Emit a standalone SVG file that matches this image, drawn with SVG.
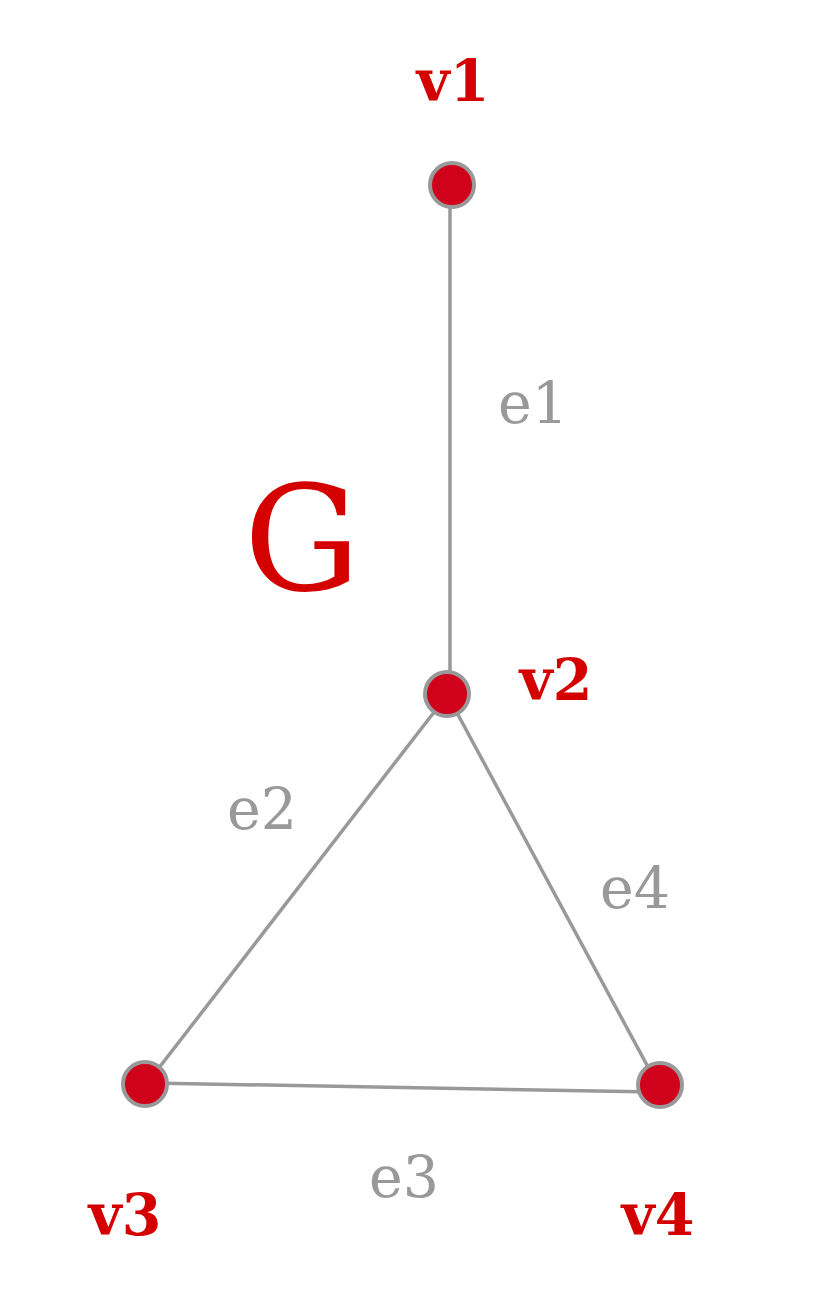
<svg xmlns="http://www.w3.org/2000/svg" width="816" height="1296" viewBox="0 0 816 1296">
<style>
.node{fill:#d0021b;stroke:#999;stroke-width:4}
.edge{stroke:#999;stroke-width:3.5;fill:none}
.vl{font-family:"DejaVu Serif",serif;font-weight:bold;font-size:57px;fill:#d40000;text-anchor:middle}
.el{font-family:"DejaVu Serif",serif;font-size:57px;fill:#999;text-anchor:middle}
.g{font-family:"DejaVu Serif",serif;font-size:146px;fill:#d40000;text-anchor:middle}
</style>
<rect width="816" height="1296" fill="#fff"/>
<g id="connectors">
<line class="edge" x1="450" y1="190" x2="450" y2="690"/>
<line class="edge" x1="445" y1="698" x2="148" y2="1082"/>
<line class="edge" x1="150" y1="1083" x2="655" y2="1092"/>
<line class="edge" x1="449" y1="698" x2="655" y2="1080"/>
<text class="el" x="533" y="423">e1</text>
<text class="el" x="262" y="829">e2</text>
<text class="el" x="404" y="1197">e3</text>
<text class="el" x="635" y="908">e4</text>
</g>
<g id="label-G"><text class="g" x="302" y="590">G</text></g>
<g id="v1"><circle class="node" cx="452" cy="185" r="22"/><text class="vl" x="453" y="101">v1</text></g>
<g id="v2"><circle class="node" cx="447" cy="694" r="22"/><text class="vl" x="556" y="700">v2</text></g>
<g id="v3"><circle class="node" cx="145" cy="1084" r="22"/><text class="vl" x="125" y="1235">v3</text></g>
<g id="v4"><circle class="node" cx="660" cy="1085" r="22"/><text class="vl" x="658" y="1235">v4</text></g>
</svg>
